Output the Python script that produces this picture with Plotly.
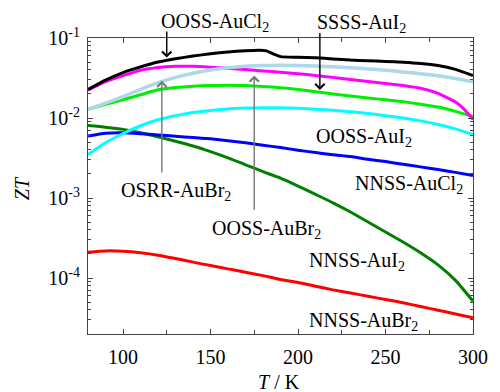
import plotly.graph_objects as go

T = [80, 90, 100, 110, 120, 130, 140, 150, 160, 170, 180, 190, 200, 210,
     220, 230, 240, 250, 260, 270, 280, 290, 300]

T_ooss_aucl2 = [80, 90, 100, 110, 120, 130, 140, 150, 160, 170, 178, 182, 186, 190,
                200, 210, 220, 230, 240, 250, 260, 270, 280, 290, 300]
zt_ooss_aucl2 = [0.0227, 0.0297, 0.0370, 0.0435, 0.0500, 0.0550, 0.0595, 0.0635, 0.0670,
                 0.0695, 0.0705, 0.0690, 0.0630, 0.0585, 0.0575, 0.0565, 0.0548, 0.0530,
                 0.0520, 0.0510, 0.0498, 0.0480, 0.0452, 0.0405, 0.0340]

T_magenta = [80, 90, 100, 110, 120, 130, 140, 150, 160, 170, 180, 190, 200, 210,
             220, 230, 240, 250, 260, 270, 280, 290, 295, 300]
zt_magenta = [0.0223, 0.0285, 0.0338, 0.0395, 0.0428, 0.0443, 0.0443, 0.0432, 0.0418,
              0.0403, 0.0388, 0.0374, 0.0358, 0.0340, 0.0322, 0.0303, 0.0286, 0.0270,
              0.0254, 0.0235, 0.0203, 0.0158, 0.0128, 0.0096]

zt_lightblue = [0.0128, 0.0153, 0.0185, 0.0228, 0.0276, 0.0322, 0.0363, 0.0398, 0.0425,
                0.0443, 0.0452, 0.0455, 0.0452, 0.0446, 0.0437, 0.0425, 0.0410, 0.0395,
                0.0377, 0.0358, 0.0338, 0.0312, 0.0283]

zt_green = [0.0128, 0.0148, 0.0169, 0.0195, 0.0225, 0.0240, 0.0250, 0.0255, 0.0256,
            0.0254, 0.0248, 0.0239, 0.0227, 0.0213, 0.0200, 0.0188, 0.0178, 0.0169,
            0.0160, 0.0149, 0.0137, 0.0121, 0.0104]

zt_cyan = [0.0035, 0.0049, 0.0064, 0.0080, 0.0095, 0.0107, 0.0117, 0.0124, 0.0130,
           0.0133, 0.0134, 0.0134, 0.0132, 0.0129, 0.0125, 0.0120, 0.0114, 0.0107,
           0.0100, 0.0092, 0.0083, 0.0073, 0.0062]

zt_darkgreen = [0.00805, 0.00767, 0.00721, 0.00653, 0.00582, 0.00513, 0.00447, 0.00380,
                0.00318, 0.00260, 0.00214, 0.00177, 0.00141, 0.00111, 0.000871,
                0.000668, 0.000501, 0.000376, 0.000282, 0.000207, 0.000146,
                0.0000933, 0.0000513]

zt_blue = [0.00596, 0.00645, 0.00653, 0.00637, 0.00615, 0.00592, 0.00569, 0.00550,
           0.00521, 0.00490, 0.00457, 0.00427, 0.00396, 0.00370, 0.00347, 0.00330,
           0.00305, 0.00285, 0.00264, 0.00245, 0.00227, 0.00209, 0.00191]

zt_red = [0.000210, 0.000218, 0.000216, 0.000207, 0.000193, 0.000175, 0.000158,
          0.000143, 0.000130, 0.000118, 0.000107, 0.0000960, 0.0000880, 0.0000790,
          0.0000710, 0.0000650, 0.0000590, 0.0000540, 0.0000490, 0.0000440,
          0.0000396, 0.0000355, 0.0000318]

ytick_vals = [1e-4, 1e-3, 1e-2, 1e-1]
ytick_text = ["10<sup>-4</sup>", "10<sup>-3</sup>", "10<sup>-2</sup>", "10<sup>-1</sup>"]
xtick_vals = [100, 150, 200, 250, 300]

FONT = "Liberation Serif, Times New Roman, serif"
FS = 20

series = [
    (T, zt_red, "#ff0000", 3),
    (T, zt_darkgreen, "#008000", 3),
    (T, zt_blue, "#0000ff", 3),
    (T, zt_cyan, "#00ffff", 3),
    (T, zt_green, "#00ee00", 3),
    (T_magenta, zt_magenta, "#ff00ff", 3),
    (T, zt_lightblue, "#add8e6", 3.5),
    (T_ooss_aucl2, zt_ooss_aucl2, "#000000", 3),
]

fig = go.Figure()
for xs, ys, col, w in series:
    fig.add_trace(go.Scatter(x=xs, y=ys, mode="lines",
                             line=dict(color=col, width=w, shape="spline", smoothing=0.5),
                             showlegend=False, hoverinfo="skip"))

axis_common = dict(showline=True, linecolor="#444444", linewidth=1, mirror="allticks",
                   ticks="inside", ticklen=5, tickcolor="#444444", showgrid=False,
                   zeroline=False, tickfont=dict(family=FONT, size=FS, color="black"))

fig.update_xaxes(range=[80, 300], tickvals=xtick_vals, ticklabelstandoff=5,
                 minor=dict(ticks="inside", ticklen=4, dtick=25, tick0=0, tickcolor="#444444"),
                 **axis_common)
fig.update_yaxes(type="log", range=[-4.7, -1], tickvals=ytick_vals, ticktext=ytick_text,
                 ticklabelstandoff=3,
                 minor=dict(ticks="inside", ticklen=3, dtick="D1", tickcolor="#444444"),
                 **axis_common)

def label(text, x, y, yref="y"):
    fig.add_annotation(x=x, y=y, xref="x", yref=yref, text=text, showarrow=False,
                       font=dict(family=FONT, size=FS, color="black"),
                       xanchor="center", yanchor="middle")

def arrow(x, y_tail, y_head, color):
    fig.add_annotation(x=x, y=y_head, ax=x, ay=y_tail, xref="x", yref="y",
                       axref="x", ayref="y", text="", showarrow=True,
                       arrowhead=4, arrowsize=1.3, arrowwidth=1.4, arrowcolor=color)

label("OOSS-AuCl<sub>2</sub>", 152.8, 1.052, yref="paper")
arrow(125, -0.90, -1.245, "black")
label("SSSS-AuI<sub>2</sub>", 236.1, 1.049, yref="paper")
arrow(212.5, -0.92, -1.65, "black")
label("OSRR-AuBr<sub>2</sub>", 130, -2.92)
arrow(122.2, -2.70, -1.535, "#777777")
label("OOSS-AuBr<sub>2</sub>", 181.9, -3.39)
arrow(175, -3.165, -1.47, "#777777")
label("OOSS-AuI<sub>2</sub>", 237.8, -2.24)
label("NNSS-AuCl<sub>2</sub>", 263.3, -2.825)
label("NNSS-AuI<sub>2</sub>", 233.9, -3.79)
label("NNSS-AuBr<sub>2</sub>", 237.2, -4.54)

fig.add_annotation(x=-0.171, y=0.493, xref="paper", yref="paper", text="<i>ZT</i>",
                   textangle=-90, showarrow=False, xanchor="center", yanchor="middle",
                   font=dict(family=FONT, size=FS, color="black"))
fig.add_annotation(x=0.496, y=-0.161, xref="paper", yref="paper", text="<i>T</i> / K",
                   showarrow=False, xanchor="center", yanchor="middle",
                   font=dict(family=FONT, size=FS, color="black"))

fig.update_layout(width=500, height=392, margin=dict(l=88, r=15, t=38, b=58),
                  paper_bgcolor="white", plot_bgcolor="white")

fig.write_html("out.html", config={"displayModeBar": False},
               post_script="document.body.style.margin='0px';")
